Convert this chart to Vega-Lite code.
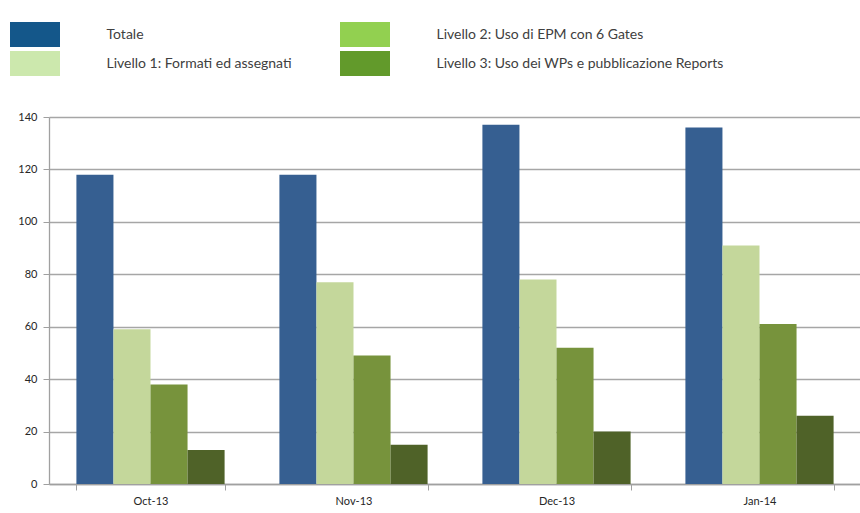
{
  "$schema": "https://vega.github.io/schema/vega-lite/v6.json",
  "width": 812,
  "height": 367,
  "autosize": {"type": "none"},
  "padding": {"left": 49, "top": 117, "right": 0, "bottom": 29},
  "background": "white",
  "data": {
    "values": [
      {"month": "Oct-13", "series": "Totale", "value": 118},
      {"month": "Oct-13", "series": "Livello 1: Formati ed assegnati", "value": 59},
      {"month": "Oct-13", "series": "Livello 2: Uso di EPM con 6 Gates", "value": 38},
      {"month": "Oct-13", "series": "Livello 3: Uso dei WPs  e pubblicazione Reports", "value": 13},
      {"month": "Nov-13", "series": "Totale", "value": 118},
      {"month": "Nov-13", "series": "Livello 1: Formati ed assegnati", "value": 77},
      {"month": "Nov-13", "series": "Livello 2: Uso di EPM con 6 Gates", "value": 49},
      {"month": "Nov-13", "series": "Livello 3: Uso dei WPs  e pubblicazione Reports", "value": 15},
      {"month": "Dec-13", "series": "Totale", "value": 137},
      {"month": "Dec-13", "series": "Livello 1: Formati ed assegnati", "value": 78},
      {"month": "Dec-13", "series": "Livello 2: Uso di EPM con 6 Gates", "value": 52},
      {"month": "Dec-13", "series": "Livello 3: Uso dei WPs  e pubblicazione Reports", "value": 20},
      {"month": "Jan-14", "series": "Totale", "value": 136},
      {"month": "Jan-14", "series": "Livello 1: Formati ed assegnati", "value": 91},
      {"month": "Jan-14", "series": "Livello 2: Uso di EPM con 6 Gates", "value": 61},
      {"month": "Jan-14", "series": "Livello 3: Uso dei WPs  e pubblicazione Reports", "value": 26}
    ]
  },
  "encoding": {
    "x": {
      "field": "month",
      "type": "nominal",
      "sort": ["Oct-13", "Nov-13", "Dec-13", "Jan-14"],
      "scale": {"paddingInner": 0.27, "paddingOuter": 0.135},
      "axis": {
        "title": null,
        "labelAngle": 0,
        "tickBand": "extent",
        "tickSize": 6,
        "tickColor": "#a0a0a0",
        "domainColor": "#a0a0a0",
        "domainWidth": 1.3,
        "labelFontSize": 11,
        "labelColor": "#262626",
        "labelPadding": 5
      }
    },
    "xOffset": {
      "field": "series",
      "type": "nominal",
      "sort": ["Totale", "Livello 1: Formati ed assegnati", "Livello 2: Uso di EPM con 6 Gates", "Livello 3: Uso dei WPs  e pubblicazione Reports"],
      "scale": {"paddingInner": 0, "paddingOuter": 0}
    },
    "y": {
      "field": "value",
      "type": "quantitative",
      "scale": {"domain": [0, 140], "nice": false},
      "axis": {
        "title": null,
        "values": [0, 20, 40, 60, 80, 100, 120, 140],
        "grid": true,
        "gridColor": "#a6a6a6",
        "gridWidth": 1.3,
        "tickSize": 6,
        "tickColor": "#a0a0a0",
        "domainColor": "#a0a0a0",
        "domainWidth": 1.3,
        "labelFontSize": 11,
        "labelColor": "#262626",
        "labelPadding": 6
      }
    }
  },
  "layer": [
    {
      "mark": {"type": "bar"},
      "encoding": {
        "color": {
          "field": "series",
          "type": "nominal",
          "scale": {
            "domain": ["Totale", "Livello 1: Formati ed assegnati", "Livello 2: Uso di EPM con 6 Gates", "Livello 3: Uso dei WPs  e pubblicazione Reports"],
            "range": ["#365f91", "#c4d79b", "#77933c", "#4f6228"]
          },
          "legend": null
        }
      }
    },
    {
      "mark": {"type": "bar", "opacity": 0},
      "encoding": {
        "color": {
          "field": "series",
          "type": "nominal",
          "scale": {
            "domain": ["Totale", "Livello 1: Formati ed assegnati", "Livello 2: Uso di EPM con 6 Gates", "Livello 3: Uso dei WPs  e pubblicazione Reports"],
            "range": ["#14578a", "#cce8ad", "#92d050", "#629a2b"]
          },
          "legend": {
            "title": null,
            "orient": "none",
            "direction": "vertical",
            "legendX": -26.5,
            "legendY": -95,
            "padding": 0,
            "columns": 2,
            "columnPadding": 47,
            "rowPadding": 4,
            "symbolType": "M-2,-1H2V1H-2Z",
            "symbolSize": 625,
            "symbolOpacity": 1,
            "symbolStrokeWidth": 0,
            "labelOffset": 59,
            "labelFontSize": 14,
            "labelColor": "#404040",
            "labelLimit": 400
          }
        }
      }
    }
  ],
  "resolve": {"scale": {"color": "independent"}},
  "config": {
    "view": {"stroke": null},
    "font": "Lato"
  }
}
